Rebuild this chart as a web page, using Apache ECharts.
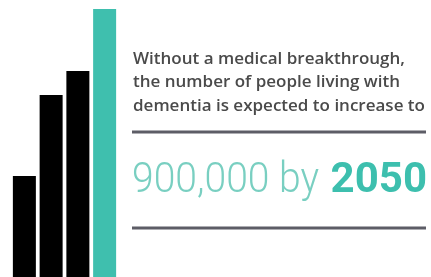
<!DOCTYPE html>
<html>
<head>
<meta charset="utf-8">
<script src="https://cdn.jsdelivr.net/npm/echarts@6/dist/echarts.min.js"></script>
<style>
  html, body { margin: 0; padding: 0; background: #fff; }
  #main { width: 431px; height: 277px; }
</style>
</head>
<body>
<div id="main"></div>
<script>
// 柱子数据（相对高度，从图上估计）
var categories = ['A', 'B', 'C', 'D'];
var values = [101, 182, 206, 268];
var barColors = ['#000000', '#000000', '#000000', '#3fbfae'];

// 文字
var introLines = [
    'Without a medical breakthrough,',
    'the number of people living with',
    'dementia is expected to increase to'
];
var bigNumber = '900,000 by';
var bigYear = '2050';

var chart = echarts.init(document.getElementById('main'));

var option = {
    animation: false,
    grid: {
        left: 11,
        width: 107,
        top: 0,
        bottom: 0
    },
    xAxis: {
        type: 'category',
        data: categories,
        show: false
    },
    yAxis: {
        type: 'value',
        min: 0,
        max: 277,
        show: false
    },
    series: [{
        type: 'bar',
        barWidth: 23,
        data: values.map(function (v, i) {
            return { value: v, itemStyle: { color: barColors[i] } };
        })
    }],
    graphic: [
        {
            type: 'text',
            x: 133,
            y: 47,
            style: {
                text: introLines.join('\n'),
                font: '600 17px "Open Sans"',
                lineHeight: 23.5,
                fill: '#4a4a4a'
            }
        },
        {
            type: 'line',
            shape: { x1: 132, y1: 132, x2: 426, y2: 132 },
            style: { stroke: '#5d5d66', lineWidth: 3 }
        },
        // 大数字，细体部分稍微压窄
        {
            type: 'text',
            x: 132,
            y: 160,
            scaleX: 0.93,
            style: {
                text: bigNumber,
                font: '300 42px Roboto',
                fill: '#79cfc1'
            }
        },
        {
            type: 'text',
            x: 427,
            y: 160,
            style: {
                text: bigYear,
                align: 'right',
                font: 'bold 42px Roboto',
                fill: '#3dbfae'
            }
        },
        {
            type: 'line',
            shape: { x1: 132, y1: 228, x2: 426, y2: 228 },
            style: { stroke: '#5d5d66', lineWidth: 3 }
        }
    ]
};

chart.setOption(option);
</script>
</body>
</html>
